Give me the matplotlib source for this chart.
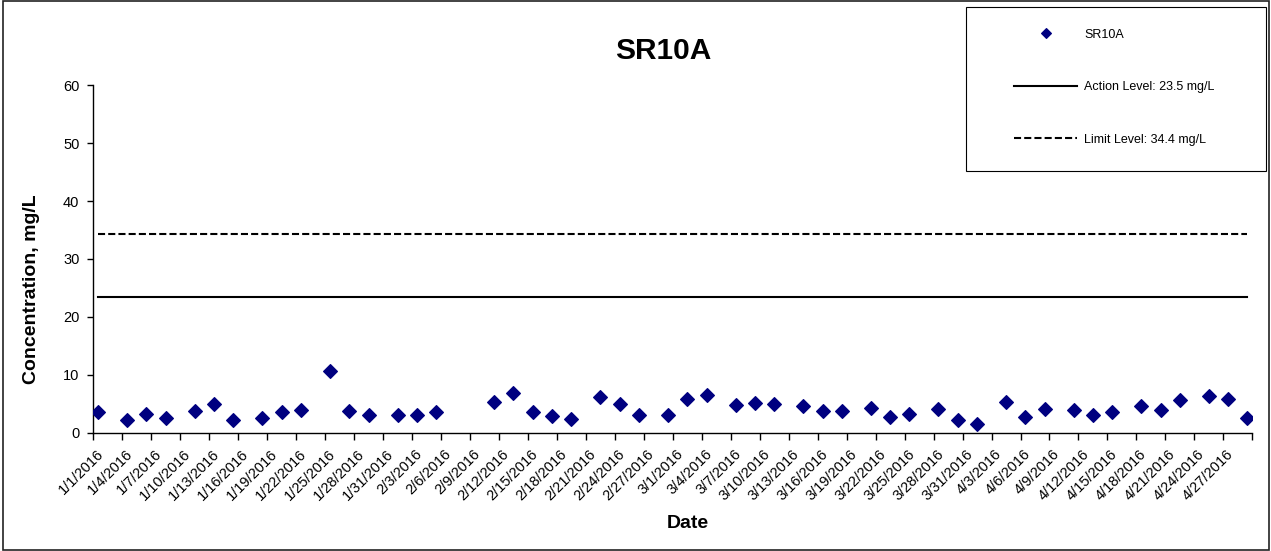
import matplotlib
matplotlib.use("Agg")
import matplotlib.pyplot as plt
import matplotlib.transforms as mtransforms
from matplotlib.patches import Rectangle
import pandas as pd

plt.rcParams['font.family'] = ['Liberation Sans', 'DejaVu Sans']

# ---- data ----
sample_dates = ["2016-01-01", "2016-01-04", "2016-01-06", "2016-01-08", "2016-01-11",
                "2016-01-13", "2016-01-15", "2016-01-18", "2016-01-20", "2016-01-22",
                "2016-01-25", "2016-01-27", "2016-01-29", "2016-02-01", "2016-02-03",
                "2016-02-05", "2016-02-11", "2016-02-13", "2016-02-15", "2016-02-17",
                "2016-02-19", "2016-02-22", "2016-02-24", "2016-02-26", "2016-02-29",
                "2016-03-02", "2016-03-04", "2016-03-07", "2016-03-09", "2016-03-11",
                "2016-03-14", "2016-03-16", "2016-03-18", "2016-03-21", "2016-03-23",
                "2016-03-25", "2016-03-28", "2016-03-30", "2016-04-01", "2016-04-04",
                "2016-04-06", "2016-04-08", "2016-04-11", "2016-04-13", "2016-04-15",
                "2016-04-18", "2016-04-20", "2016-04-22", "2016-04-25", "2016-04-27",
                "2016-04-29"]
sr10a = [3.5, 2.2, 3.2, 2.5, 3.7,
         4.9, 2.2, 2.6, 3.5, 4.0,
         10.7, 3.8, 3.1, 3.0, 3.0,
         3.6, 5.3, 6.8, 3.6, 2.9,
         2.3, 6.2, 4.9, 3.05, 3.0,
         5.9, 6.5, 4.7, 5.2, 4.9,
         4.6, 3.8, 3.7, 4.3, 2.65,
         3.3, 4.1, 2.2, 1.5, 5.35,
         2.65, 4.1, 3.85, 3.1, 3.55,
         4.6, 3.85, 5.6, 6.4, 5.9,
         2.6]
action_level = 23.5
limit_level = 34.4
series_label = "SR10A"
action_label = "Action Level: 23.5 mg/L"
limit_label = "Limit Level: 34.4 mg/L"
title = "SR10A"
xlabel = "Date"
ylabel = "Concentration, mg/L"
axis_start = "2016-01-01"
axis_end = "2016-04-30"
tick_step_days = 3
y_ticks = [0, 10, 20, 30, 40, 50, 60]

# ---- figure ----
W, H = 1271, 551
fig = plt.figure(figsize=(W / 100, H / 100), dpi=100)
fig.patch.set_facecolor('white')

def px_rect(x0, y0, x1, y1):
    return [x0 / W, 1 - y1 / H, (x1 - x0) / W, (y1 - y0) / H]

ax = fig.add_axes(px_rect(93.3, 85.3, 1252.3, 432.7))

# dates plotted at the centre of each day (Excel "between tick marks" style)
x = pd.to_datetime(sample_dates) + pd.Timedelta(hours=12)

ax.plot(x, [limit_level] * len(x), color='black', lw=1.5, ls=(0, (3.4, 1.5)),
        label=limit_label, zorder=2)
ax.plot(x, [action_level] * len(x), color='black', lw=1.5, ls='-',
        label=action_label, zorder=2)
ax.plot(x, sr10a, ls='none', marker='D', ms=7.0, mew=0.8, color='#000080',
        mec='#000080', label=series_label, zorder=3)

ax.set_xlim(pd.Timestamp(axis_start), pd.Timestamp(axis_end))
ax.set_ylim(0, 60)
ax.set_yticks(y_ticks)

ticks = pd.date_range(axis_start, axis_end, freq=f"{tick_step_days}D")
ax.set_xticks(ticks)
labels = [f"{d.month}/{d.day}/{d.year}" for d in ticks]
labels[-1] = ""
ax.set_xticklabels(labels)

for s in ['top', 'right']:
    ax.spines[s].set_visible(False)
for s in ['left', 'bottom']:
    ax.spines[s].set_linewidth(1.0)
    ax.spines[s].set_color('black')

ax.tick_params(axis='y', direction='out', length=4, width=1, labelsize=10.5, pad=6)
ax.tick_params(axis='x', direction='out', length=5, width=1, labelsize=10.5, pad=9)

offset = mtransforms.ScaledTranslation(8 / 100, 0, fig.dpi_scale_trans)
for lab in ax.get_xticklabels():
    lab.set_rotation(45)
    lab.set_ha('right')
    lab.set_va('center')
    lab.set_rotation_mode('anchor')
    lab.set_transform(lab.get_transform() + offset)

fig.text(663 / W, 1 - 50.7 / H, title, ha='center', va='center',
         fontsize=21.5, fontweight='bold')
ax.set_xlabel(xlabel, fontsize=14, fontweight='bold')
ax.xaxis.set_label_coords((687.5 - 93.3) / (1252.3 - 93.3), 1 - (523 - 85.3) / (432.7 - 85.3))
ax.xaxis.label.set_va('center')
ax.set_ylabel(ylabel, fontsize=14, fontweight='bold')
ax.yaxis.set_label_coords((31.5 - 93.3) / (1252.3 - 93.3), (432.7 - 289) / (432.7 - 85.3))
ax.yaxis.label.set_va('center')

# legend
h, l = ax.get_legend_handles_labels()
order = [2, 1, 0]
leg = fig.legend([h[i] for i in order], [l[i] for i in order],
                 loc='upper left', bbox_to_anchor=(1014 / W, 1 - 28.5 / H),
                 frameon=False, fontsize=9, borderpad=0, borderaxespad=0,
                 handlelength=5.04, handletextpad=0.56, labelspacing=3.24,
                 numpoints=1, markerscale=0.7)

# legend frame and chart border
fig.patches.append(Rectangle((966 / W, 1 - 171 / H), 300 / W, 164 / H,
                             transform=fig.transFigure, fill=False,
                             edgecolor='black', lw=0.8))
fig.patches.append(Rectangle((3 / W, 1 - 549.5 / H), 1266 / W, 548.5 / H,
                             transform=fig.transFigure, fill=False,
                             edgecolor='#222222', lw=1.2))

fig.savefig("out.png", dpi=100)
